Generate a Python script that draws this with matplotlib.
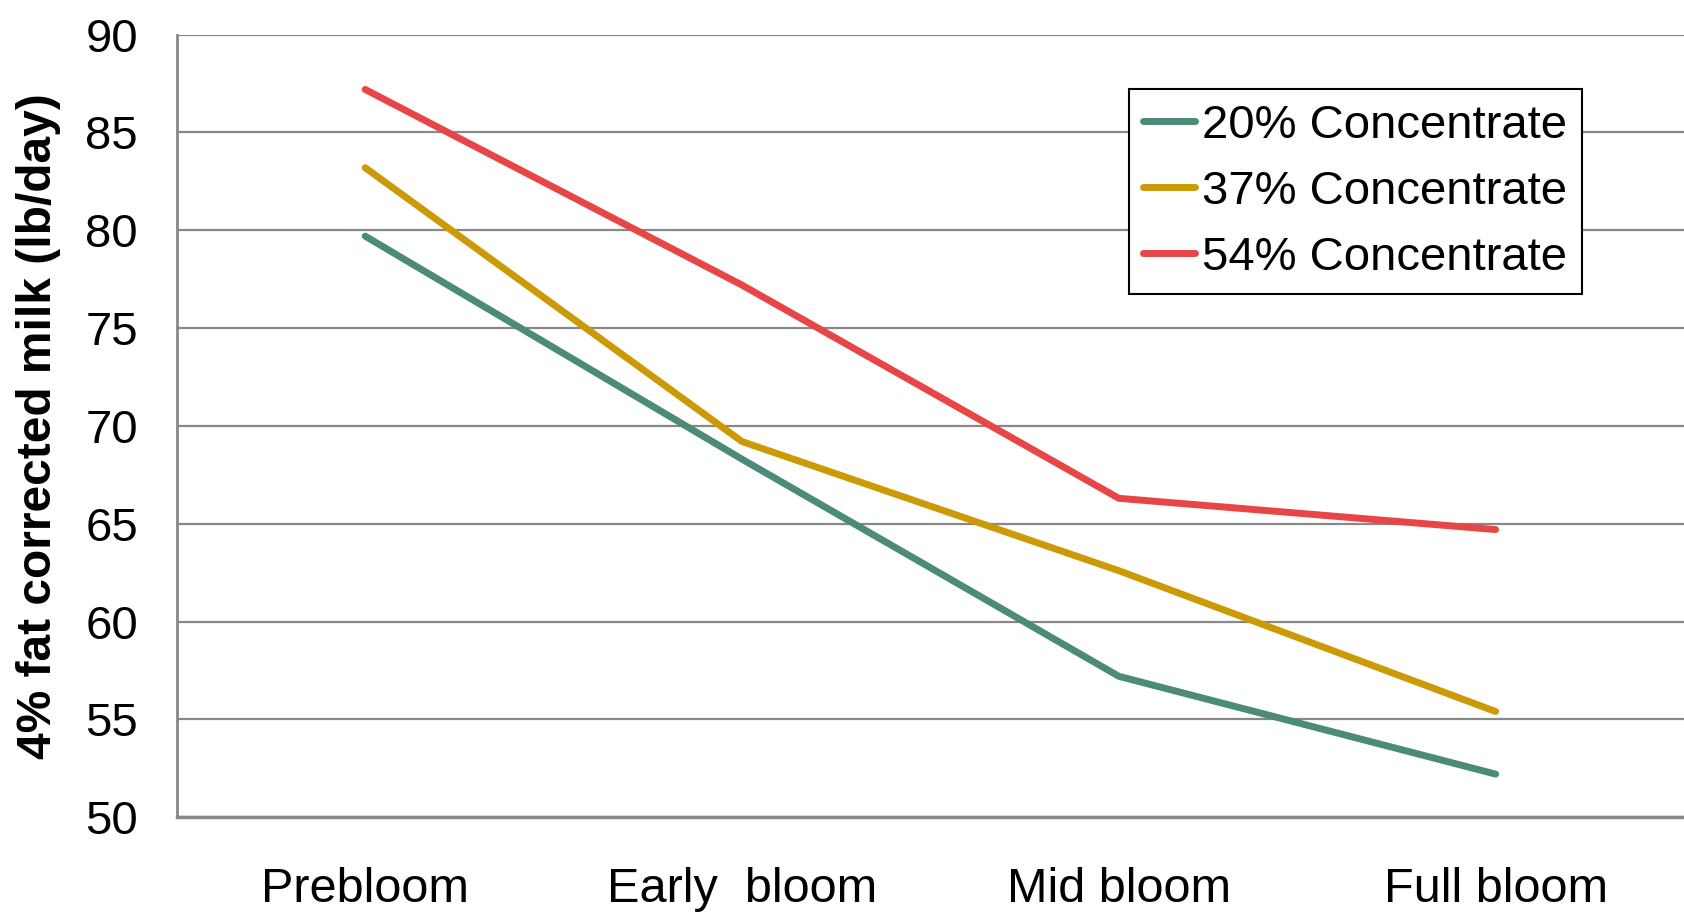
import matplotlib.pyplot as plt

stages = ['Prebloom', 'Early  bloom', 'Mid bloom', 'Full bloom']
conc20 = [79.7, 68.3, 57.2, 52.2]
conc37 = [83.2, 69.2, 62.6, 55.4]
conc54 = [87.2, 77.2, 66.3, 64.7]
yticks = [50, 55, 60, 65, 70, 75, 80, 85, 90]

plt.rcParams['font.family'] = ['Liberation Sans', 'DejaVu Sans']

fig = plt.figure(figsize=(16.84, 9.13), dpi=100)
ax = fig.add_axes([0.105, 0.105, 0.895, 0.857])

x = range(len(stages))
ax.plot(x, conc20, color='#4b8b78', lw=5, solid_capstyle='round', label='20% Concentrate')
ax.plot(x, conc37, color='#cc9a06', lw=5, solid_capstyle='round', label='37% Concentrate')
ax.plot(x, conc54, color='#e84646', lw=5, solid_capstyle='round', label='54% Concentrate')

ax.set_xlim(-0.5, 3.5)
ax.set_ylim(50, 90)
ax.set_yticks(yticks)
ax.set_xticks(list(x))
ax.set_xticklabels(stages)
ax.tick_params(axis='y', length=0, labelsize=34, pad=28)
ax.tick_params(axis='x', length=0, labelsize=35, pad=36)
ax.grid(axis='y', color='#888888', lw=1.6)
ax.set_axisbelow(True)
for s in ['top', 'right']:
    ax.spines[s].set_visible(False)
ax.spines['left'].set_color('#888888')
ax.spines['left'].set_linewidth(2)
ax.spines['bottom'].set_color('#888888')
ax.spines['bottom'].set_linewidth(2.5)

ax.set_ylabel('4% fat corrected milk (lb/day)', fontsize=34.5, fontweight='bold')
ax.yaxis.set_label_coords(-0.077, 0.5)

leg = ax.legend(loc='upper right', bbox_to_anchor=(0.932, 0.93), fontsize=34,
                fancybox=False, framealpha=1, edgecolor='black', handlelength=1.1,
                handletextpad=0.15, labelspacing=0.47, borderpad=0.3, borderaxespad=0)
leg.get_frame().set_linewidth(1.5)

fig.savefig('out.png', dpi=100)
